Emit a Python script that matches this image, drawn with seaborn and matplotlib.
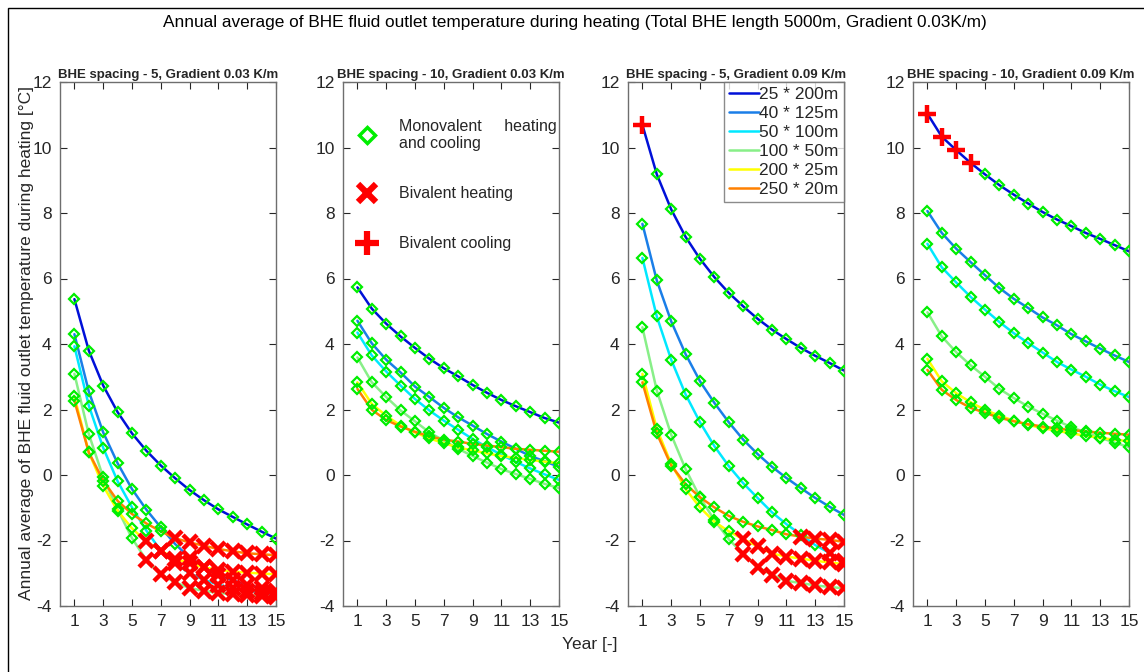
import numpy as np
import pandas as pd
import seaborn as sns
import matplotlib.pyplot as plt
from matplotlib.lines import Line2D
from matplotlib.patches import Rectangle

# BHE field configurations (number of BHEs * length)
configs = ["25 * 200m", "40 * 125m", "50 * 100m", "100 * 50m", "200 * 25m", "250 * 20m"]
line_colors = ["#0010d8", "#1a7ee8", "#00e8ff", "#88ef88", "#ffff00", "#ff8000"]
years = list(range(1, 16))

panel_titles = ["BHE spacing - 5, Gradient 0.03 K/m", "BHE spacing - 10, Gradient 0.03 K/m",
                "BHE spacing - 5, Gradient 0.09 K/m", "BHE spacing - 10, Gradient 0.09 K/m"]

# annual average outlet temperature [°C], one row per config
t_s5_g003 = [
    [5.37, 3.80, 2.73, 1.92, 1.27, 0.74, 0.29, -0.10, -0.46, -0.77, -1.05, -1.28, -1.51, -1.73, -1.94],
    [4.30, 2.55, 1.30, 0.36, -0.43, -1.06, -1.60, -2.11, -2.52, -2.82, -3.05, -3.22, -3.35, -3.45, -3.54],
    [3.93, 2.12, 0.83, -0.19, -0.99, -1.70, -2.31, -2.70, -3.00, -3.20, -3.35, -3.45, -3.53, -3.60, -3.66],
    [3.09, 1.25, -0.07, -1.05, -1.93, -2.60, -3.03, -3.28, -3.45, -3.54, -3.60, -3.64, -3.67, -3.69, -3.72],
    [2.40, 0.69, -0.33, -1.09, -1.63, -2.03, -2.31, -2.55, -2.70, -2.82, -2.90, -2.95, -2.98, -3.01, -3.03],
    [2.27, 0.69, -0.17, -0.79, -1.19, -1.48, -1.72, -1.93, -2.06, -2.16, -2.26, -2.33, -2.39, -2.42, -2.45],
]
t_s10_g003 = [
    [5.73, 5.08, 4.62, 4.23, 3.88, 3.55, 3.26, 3.01, 2.75, 2.51, 2.29, 2.10, 1.92, 1.74, 1.60],
    [4.71, 4.02, 3.52, 3.13, 2.70, 2.38, 2.05, 1.76, 1.51, 1.25, 1.02, 0.80, 0.58, 0.42, 0.25],
    [4.35, 3.65, 3.16, 2.73, 2.32, 1.97, 1.66, 1.38, 1.10, 0.85, 0.62, 0.40, 0.20, 0.02, -0.15],
    [3.59, 2.83, 2.38, 1.97, 1.64, 1.30, 1.05, 0.80, 0.58, 0.38, 0.18, 0.03, -0.12, -0.27, -0.40],
    [2.83, 2.17, 1.81, 1.51, 1.30, 1.12, 0.97, 0.84, 0.75, 0.66, 0.58, 0.52, 0.46, 0.41, 0.36],
    [2.63, 1.99, 1.68, 1.48, 1.32, 1.18, 1.08, 1.02, 0.95, 0.90, 0.85, 0.80, 0.77, 0.74, 0.71],
]
t_s5_g009 = [
    [10.69, 9.18, 8.11, 7.27, 6.60, 6.04, 5.56, 5.15, 4.77, 4.44, 4.15, 3.88, 3.64, 3.42, 3.19],
    [7.67, 5.94, 4.69, 3.69, 2.86, 2.20, 1.61, 1.08, 0.64, 0.25, -0.09, -0.40, -0.70, -0.97, -1.22],
    [6.63, 4.84, 3.52, 2.46, 1.61, 0.88, 0.27, -0.25, -0.70, -1.14, -1.50, -1.82, -2.14, -2.38, -2.62],
    [4.51, 2.58, 1.23, 0.18, -0.68, -1.38, -1.96, -2.42, -2.80, -3.06, -3.23, -3.30, -3.37, -3.42, -3.46],
    [3.09, 1.41, 0.34, -0.43, -0.99, -1.43, -1.72, -1.96, -2.18, -2.40, -2.49, -2.55, -2.62, -2.67, -2.72],
    [2.83, 1.27, 0.29, -0.28, -0.68, -0.99, -1.25, -1.43, -1.57, -1.68, -1.81, -1.88, -1.94, -1.98, -2.04],
]
t_s10_g009 = [
    [11.03, 10.33, 9.92, 9.53, 9.18, 8.85, 8.56, 8.29, 8.03, 7.80, 7.60, 7.39, 7.21, 7.02, 6.83],
    [8.06, 7.39, 6.91, 6.50, 6.10, 5.71, 5.38, 5.10, 4.81, 4.57, 4.30, 4.08, 3.86, 3.65, 3.45],
    [7.06, 6.34, 5.88, 5.44, 5.05, 4.67, 4.33, 4.03, 3.74, 3.45, 3.22, 3.00, 2.76, 2.56, 2.38],
    [4.97, 4.23, 3.75, 3.35, 3.00, 2.63, 2.35, 2.09, 1.87, 1.66, 1.46, 1.30, 1.14, 0.99, 0.85],
    [3.55, 2.86, 2.50, 2.22, 1.99, 1.81, 1.66, 1.53, 1.43, 1.35, 1.27, 1.20, 1.13, 1.08, 1.03],
    [3.21, 2.60, 2.29, 2.05, 1.90, 1.75, 1.64, 1.55, 1.48, 1.42, 1.37, 1.33, 1.29, 1.26, 1.23],
]

# operation mode per year: d = monovalent, x = bivalent heating, + = bivalent cooling
m_s5_g003 = ["ddddddddddddddd", "ddddddddxxxxxxx", "ddddddxxxxxxxxx",
             "dddddxxxxxxxxxx", "dddddxxxxxxxxxx", "dddddddxxxxxxxx"]
m_s10_g003 = ["ddddddddddddddd"] * 6
m_s5_g009 = ["+dddddddddddddd", "ddddddddddddddd", "dddddddddddddxx",
             "dddddddxxxxxxxx", "dddddddxxxxxxxx", "dddddddddddxxxx"]
m_s10_g009 = ["++++ddddddddddd"] + ["ddddddddddddddd"] * 5

panels = [(t_s5_g003, m_s5_g003), (t_s10_g003, m_s10_g003),
          (t_s5_g009, m_s5_g009), (t_s10_g009, m_s10_g009)]

sns.set_style("ticks")
plt.rcParams['font.family'] = ['Liberation Sans', 'DejaVu Sans']
plt.rcParams['axes.unicode_minus'] = False

fig = plt.figure(figsize=(11.44, 6.72), dpi=100)
W, H = 1144, 672
lefts = [60, 343, 628, 913]
axes = []
for left in lefts:
    axes.append(fig.add_axes([left / W, (H - 606) / H, 216 / W, 524 / H]))

palette = dict(zip(configs, line_colors))
mono_style = dict(marker='D', ms=5.5, mfc='none', mec='#00ee00', mew=1.6, ls='none')
heat_style = dict(marker='x', ms=10, mec='#ff0000', mew=3.2, ls='none')
cool_style = dict(marker='+', ms=13, mec='#ff0000', mew=3.2, ls='none')

for i, (ax, (temps, modes)) in enumerate(zip(axes, panels)):
    df = pd.DataFrame({
        "year": years * len(configs),
        "temp": [v for row in temps for v in row],
        "config": [c for c in configs for _ in years],
    })
    sns.lineplot(data=df, x="year", y="temp", hue="config", palette=palette,
                 hue_order=configs, linewidth=1.8, ax=ax, legend=(i == 2))

    yr = np.array(years)
    for row, mode in zip(temps, modes):
        code = np.array(list(mode))
        ax.plot(yr[code == 'd'], np.array(row)[code == 'd'], zorder=3, **mono_style)
    for row, mode in zip(temps, modes):
        code = np.array(list(mode))
        ax.plot(yr[code == 'x'], np.array(row)[code == 'x'], zorder=4, **heat_style)
        ax.plot(yr[code == '+'], np.array(row)[code == '+'], zorder=4, **cool_style)

    ax.set_xlim(0, 15)
    ax.set_ylim(-4, 12)
    ax.set_xticks(range(1, 16, 2))
    ax.set_yticks(range(-4, 13, 2))
    ax.set_xlabel("")
    ax.set_ylabel("")
    ax.tick_params(direction='in', top=True, right=True, labelsize=12.5,
                   length=5, width=0.8, colors='#262626', pad=6)
    for sp in ax.spines.values():
        sp.set_visible(True)
        sp.set_color('#6e6e6e')
        sp.set_linewidth(1.0)
    ax.set_title(panel_titles[i], fontsize=9.5, fontweight='bold', pad=3)

# configuration legend (lines)
leg = axes[2].legend(loc='upper right', fontsize=12.5, frameon=True, fancybox=False,
                     borderaxespad=0, handlelength=1.7, handletextpad=0.05,
                     labelspacing=0.22, borderpad=0.3)
leg.get_frame().set_edgecolor('#6e6e6e')
leg.get_frame().set_linewidth(1.0)

# operation mode legend (markers)
mode_handles = [Line2D([], [], marker='D', ms=8, mfc='none', mec='#00ee00', mew=2.5, ls='none'),
                Line2D([], [], marker='x', ms=13, mec='#ff0000', mew=4.5, ls='none'),
                Line2D([], [], marker='+', ms=17, mec='#ff0000', mew=4.5, ls='none')]
mode_labels = ["Monovalent     heating\nand cooling", "Bivalent heating", "Bivalent cooling"]
axes[1].legend(mode_handles, mode_labels, loc='upper left', bbox_to_anchor=(0.0, 0.945),
               frameon=False, fontsize=11.5, labelspacing=2.2, handletextpad=1.0, borderpad=0)

fig.text(27 / W, 1 - 343 / H, "Annual average of BHE fluid outlet temperature during heating [°C]",
         rotation=90, ha='center', va='center', fontsize=12.5, color='#262626')
fig.text(590 / W, 1 - 645 / H, "Year [-]", ha='center', va='center', fontsize=12.5, color='#262626')
fig.text(575 / W, 1 - 22 / H,
         "Annual average of BHE fluid outlet temperature during heating (Total BHE length 5000m, Gradient 0.03K/m)",
         ha='center', va='center', fontsize=12.4, color='black')

fig.patches.append(Rectangle((8 / W, -0.05), 1.2, 1 - 8 / H + 0.05, transform=fig.transFigure,
                             fill=False, edgecolor='black', linewidth=1.0))

fig.savefig("out.png", dpi=100)
